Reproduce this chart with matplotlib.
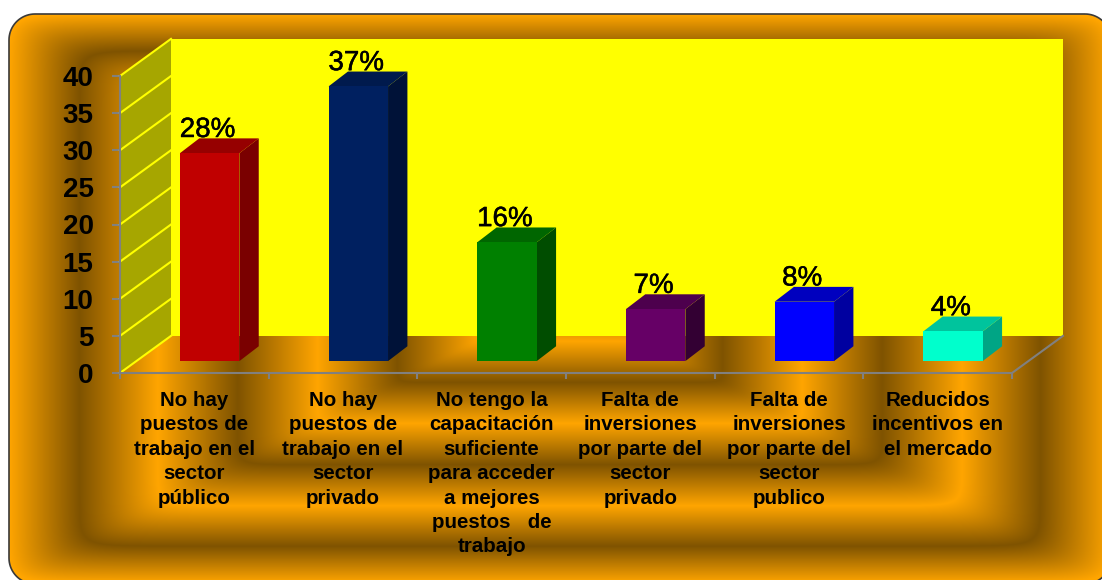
import matplotlib
matplotlib.use("Agg")
import matplotlib.patheffects as pe
import matplotlib.pyplot as plt
import numpy as np
from matplotlib.colors import to_rgb
from matplotlib.patches import Polygon, Rectangle

plt.rcParams["font.family"] = ["Liberation Sans", "DejaVu Sans"]

categories = [
    "No hay\npuestos de\ntrabajo en el\nsector\npúblico",
    "No hay\npuestos de\ntrabajo en el\nsector\nprivado",
    "No tengo la\ncapacitación\nsuficiente\npara acceder\na mejores\npuestos   de\ntrabajo",
    "Falta de\ninversiones\npor parte del\nsector\nprivado",
    "Falta de\ninversiones\npor parte del\nsector\npublico",
    "Reducidos\nincentivos en\nel mercado",
]
values = [28, 37, 16, 7, 8, 4]
value_labels = ["28%", "37%", "16%", "7%", "8%", "4%"]
y_ticks = [0, 5, 10, 15, 20, 25, 30, 35, 40]

front_colors = ["#C00000", "#002060", "#008000", "#660066", "#0000FF", "#00FFCC"]
top_colors = ["#960000", "#001A4D", "#006600", "#4D004D", "#0000BF", "#00C49D"]
side_colors = ["#7A0000", "#001238", "#004D00", "#330033", "#0000A0", "#00A585"]

# profundidad de la pared en unidades de datos
DX = 0.343
DY = 5.0
BAR_WIDTH = 0.40
BAR_F0 = 0.30
BAR_F1 = 0.68


def rounded_rect(x0, y0, x1, y1, r):
    corners = [(x1 - r, y0 + r, -90), (x1 - r, y1 - r, 0), (x0 + r, y1 - r, 90), (x0 + r, y0 + r, 180)]
    pts = []
    for cx, cy, start in corners:
        for ang in np.radians(np.linspace(start, start + 90, 20)):
            pts.append((cx + r * np.cos(ang), cy + r * np.sin(ang)))
    return pts


W, H = 1102, 580
fig = plt.figure(figsize=(W / 100, H / 100), dpi=100, facecolor="white")

# fondo: degradado rectangular en bandas
bg = fig.add_axes([0, 0, 1, 1])
bg.set_xlim(0, W)
bg.set_ylim(H, 0)
bg.axis("off")
px, py = np.meshgrid(np.arange(W) + 0.5, np.arange(H) + 0.5)
u = np.abs(px - 560) / 551
v = np.abs(py - 298.5) / 284
t = (u**30 + v**30) ** (1 / 30)
stops = [0, 0.15, 0.295, 0.44, 0.585, 0.73, 0.872, 1.0]
mix = np.interp(t, stops, [1, 0, 1, 0, 1, 0, 1, 0])
orange = np.array(to_rgb("#FFA500"))
dark = np.array(to_rgb("#7F5300"))
img = orange + (dark - orange) * mix[..., None]
im = bg.imshow(img, extent=(0, W, H, 0), aspect="auto", interpolation="bilinear")
frame = Polygon(rounded_rect(9, 14, 1111, 584, 26), closed=True, facecolor="none", edgecolor="#3A3A3A", linewidth=1.2)
bg.add_patch(frame)
im.set_clip_path(frame)

ax = fig.add_axes([120 / W, 1 - 373 / H, 892 / W, 297 / H])
ax.patch.set_alpha(0)
ax.set_xlim(0, 6)
ax.set_ylim(0, 40)

# pared del fondo y pared lateral
ax.add_patch(Rectangle((DX, DY), 6, 40, facecolor="#FFFF00", edgecolor="none", clip_on=False, zorder=1))
ax.add_patch(Polygon([(0, 0), (DX, DY), (DX, 40 + DY), (0, 40)], facecolor="#A6A600", edgecolor="none", clip_on=False, zorder=1))
for tick in y_ticks:
    ax.plot([0, DX], [tick, tick + DY], color="#FFFF00", linewidth=1.5, clip_on=False, zorder=2)
# borde derecho del suelo
ax.plot([6, 6 + DX], [0, DY], color="#808080", linewidth=1.5, clip_on=False, zorder=2)

# barras con falsa perspectiva
for i, value in enumerate(values):
    x0 = i + 0.5 - BAR_WIDTH / 2 + BAR_F0 * DX
    x1 = x0 + BAR_WIDTH
    y0 = 0.32 * DY
    y1 = y0 + value
    ox = (BAR_F1 - BAR_F0) * DX
    oy = 0.40 * DY
    ax.add_patch(Polygon([(x1, y0), (x1 + ox, y0 + oy), (x1 + ox, y1 + oy), (x1, y1)],
                         facecolor=side_colors[i], edgecolor="none", clip_on=False, zorder=3))
    ax.add_patch(Polygon([(x0, y1), (x1, y1), (x1 + ox, y1 + oy), (x0 + ox, y1 + oy)],
                         facecolor=top_colors[i], edgecolor="none", clip_on=False, zorder=3))
    ax.add_patch(Rectangle((x0, y0), BAR_WIDTH, value, facecolor=front_colors[i], edgecolor="none", clip_on=False, zorder=4))
    ax.annotate(value_labels[i], xy=((x0 + x1) / 2, y1 + oy), xytext=(-1.5, 1.0), textcoords="offset points",
                ha="center", va="baseline", fontsize=20, color="black", zorder=5, annotation_clip=False,
                path_effects=[pe.withStroke(linewidth=0.35, foreground="black")])

for name in ["top", "right"]:
    ax.spines[name].set_visible(False)
for name in ["left", "bottom"]:
    ax.spines[name].set_color("#808080")
    ax.spines[name].set_linewidth(1.5)
    ax.spines[name].set_zorder(2)

ax.set_yticks(y_ticks)
ax.set_yticklabels([str(y) for y in y_ticks], fontsize=20, fontweight="bold")
ax.tick_params(axis="y", length=6, width=1.5, color="#808080", pad=13)
ax.set_xticks(np.arange(7))
ax.set_xticklabels([])
ax.tick_params(axis="x", length=4, width=1.5, color="#808080")
ax.set_xticks(np.arange(6) + 0.5, labels=categories, minor=True, fontsize=14.8, fontweight="bold", linespacing=1.36)
ax.tick_params(axis="x", which="minor", length=0, pad=13)

fig.savefig("out.png", dpi=100, facecolor="white")
